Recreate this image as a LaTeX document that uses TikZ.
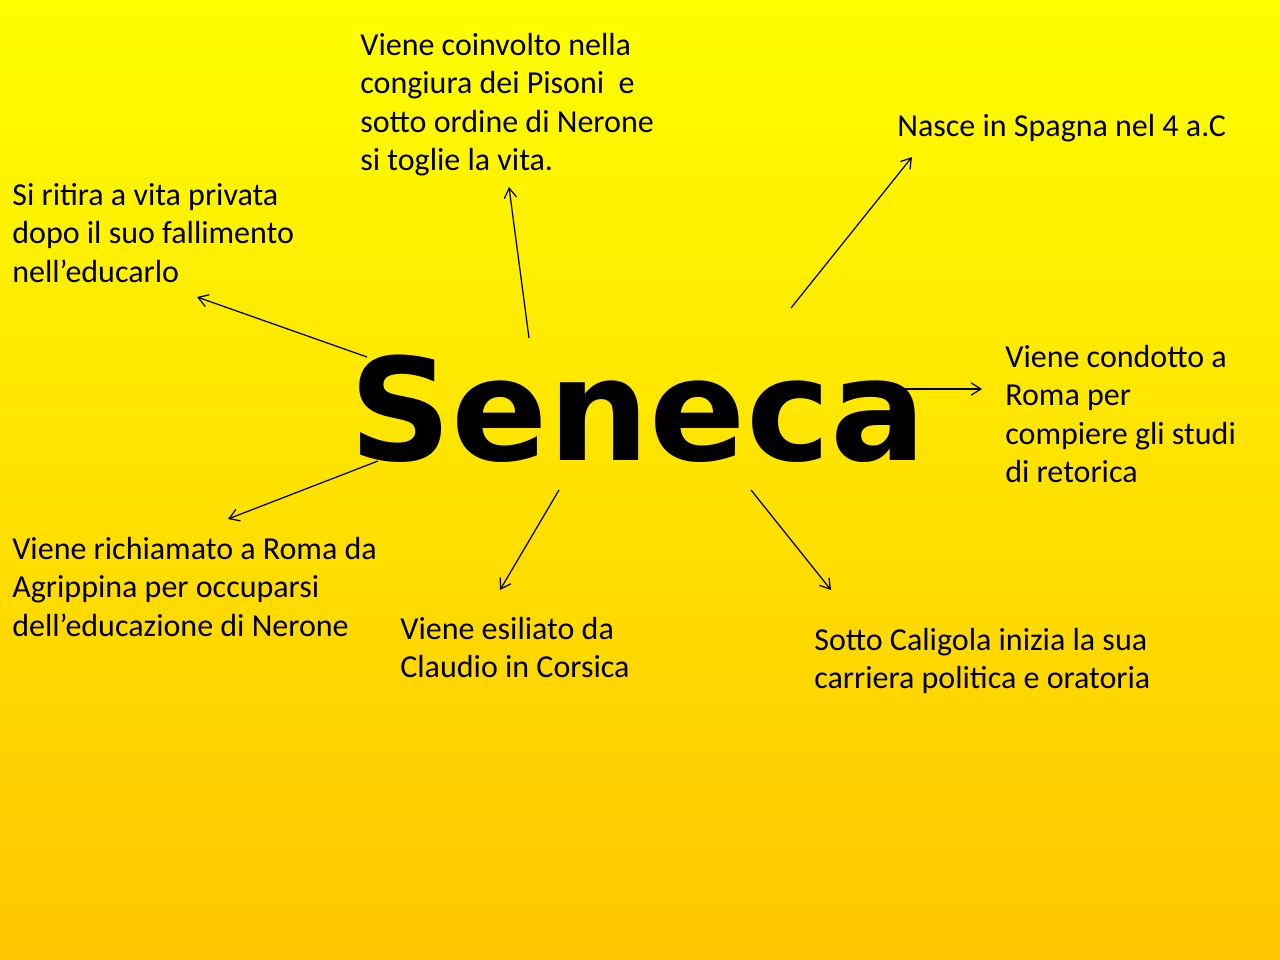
\documentclass[tikz,border=0pt]{standalone}
\usepackage{fontspec}
\setmainfont{Carlito}
\newfontfamily\titlefont{DejaVu Sans}
\usetikzlibrary{arrows.meta}
\definecolor{topyellow}{HTML}{FFFF00}
\definecolor{bottomyellow}{HTML}{FFC600}

\begin{document}
\begin{tikzpicture}[x=0.5625pt,y=-0.5625pt,
  fact/.style={anchor=north west,align=left,inner sep=0pt,font=\fontsize{18}{21.6}\selectfont},
  link/.style={-{Straight Barb[length=5.5pt,width=7pt]},line width=0.7pt}]
\shade[top color=topyellow,bottom color=bottomyellow] (0,0) rectangle (1280,960);
\useasboundingbox (0,0) rectangle (1280,960);

\node[anchor=base,inner sep=0pt,font=\titlefont\bfseries\fontsize{80}{96}\selectfont] (seneca) at (638,460) {Seneca};

\node[fact] (death) at (360,28) {\strut Viene coinvolto nella\\congiura dei Pisoni\ \ e\\sotto ordine di Nerone\\si toglie la vita.};
\node[fact] (birth) at (897,109) {\strut Nasce in Spagna nel 4 a.C};
\node[fact] (retire) at (12,178) {\strut Si ritira a vita privata\\dopo il suo fallimento\\nell’educarlo};
\node[fact] (rome) at (1005,340) {\strut Viene condotto a\\Roma per\\compiere gli studi\\di retorica};
\node[fact] (recall) at (12,532) {\strut Viene richiamato a Roma da\\Agrippina per occuparsi\\dell’educazione di Nerone};
\node[fact] (exile) at (400,612) {\strut Viene esiliato da\\Claudio in Corsica};
\node[fact] (career) at (814,623) {\strut Sotto Caligola inizia la sua\\carriera politica e oratoria};

% free ends of the arrows
\coordinate (s-death) at (529,338); \coordinate (e-death) at (509,187);
\coordinate (s-birth) at (791,308); \coordinate (e-birth) at (912,157);
\coordinate (s-retire) at (367,357); \coordinate (e-retire) at (197,297);
\coordinate (s-rome) at (905,389); \coordinate (e-rome) at (982,389);
\coordinate (s-recall) at (378,461); \coordinate (e-recall) at (228,519);
\coordinate (s-exile) at (559,490); \coordinate (e-exile) at (500,590);
\coordinate (s-career) at (751,490); \coordinate (e-career) at (831,590);

\draw[link] (s-death) -- (e-death);
\draw[link] (s-birth) -- (e-birth);
\draw[link] (s-retire) -- (e-retire);
\draw[link] (s-rome) -- (e-rome);
\draw[link] (s-recall) -- (e-recall);
\draw[link] (s-exile) -- (e-exile);
\draw[link] (s-career) -- (e-career);
\end{tikzpicture}
\end{document}
